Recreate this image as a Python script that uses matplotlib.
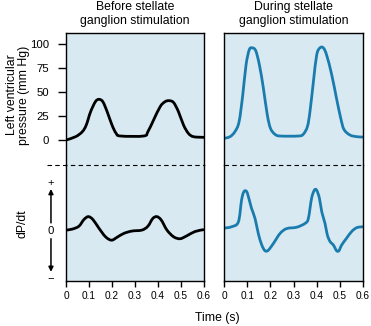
import matplotlib
matplotlib.use("Agg")
import matplotlib.pyplot as plt
from matplotlib.path import Path
from matplotlib.patches import PathPatch

plt.rcParams['font.family'] = ['Liberation Sans', 'DejaVu Sans']

# left ventricular pressure (mm Hg), before stimulation
before_t = [0, 0.042, 0.071, 0.088, 0.107, 0.128, 0.143, 0.16, 0.179, 0.2, 0.218,
            0.237, 0.338, 0.356, 0.381, 0.41, 0.431, 0.449, 0.468, 0.489, 0.511,
            0.532, 0.554, 0.6]
before_p = [0, 3.5, 8.7, 15.6, 29.5, 40, 42.4, 40, 29.5, 15.6, 7,
            4.2, 4.2, 8.7, 21, 35, 40, 41, 39, 29.5, 15.6,
            7, 3.5, 2.8]

# left ventricular pressure (mm Hg), during stimulation
during_t = [0, 0.026, 0.047, 0.065, 0.081, 0.095, 0.109, 0.122, 0.137, 0.153, 0.17,
            0.187, 0.201, 0.22, 0.242, 0.321, 0.342, 0.36, 0.371, 0.386, 0.4,
            0.414, 0.429, 0.443, 0.465, 0.486, 0.504, 0.518, 0.544, 0.573, 0.6]
during_p = [1.7, 3.5, 8.7, 19, 47, 78, 94, 96, 93, 78, 54,
            26, 12, 6, 4.2, 4.2, 6, 14, 29.5, 61, 88.5,
            96, 96, 88.5, 68, 43, 22.6, 11, 5.2, 3.5, 3.1]

# dP/dt (relative units, +1 / -1 at the axis marks)
before_dt_t = [0, 0.027, 0.056, 0.078, 0.097, 0.117, 0.143, 0.172, 0.198, 0.222, 0.251,
               0.287, 0.33, 0.356, 0.377, 0.395, 0.414, 0.439, 0.468, 0.496, 0.525,
               0.561, 0.6]
before_dpdt = [0.02, 0.04, 0.10, 0.24, 0.30, 0.24, 0.06, -0.12, -0.19, -0.13, -0.05,
               0, 0.02, 0.10, 0.26, 0.30, 0.23, 0.02, -0.12, -0.16, -0.10,
               -0.01, 0.03]

during_dt_t = [0, 0.033, 0.062, 0.076, 0.086, 0.098, 0.109, 0.119, 0.134, 0.148, 0.163,
               0.177, 0.191, 0.213, 0.242, 0.27, 0.314, 0.35, 0.364, 0.378, 0.39,
               0.4, 0.412, 0.422, 0.436, 0.446, 0.458, 0.472, 0.486, 0.496, 0.508,
               0.529, 0.551, 0.573, 0.6]
during_dpdt = [0.06, 0.09, 0.19, 0.65, 0.82, 0.82, 0.65, 0.47, 0.26, -0.05, -0.29,
               -0.41, -0.40, -0.26, -0.05, 0.05, 0.08, 0.16, 0.26, 0.68, 0.85,
               0.85, 0.68, 0.40, 0.16, -0.08, -0.22, -0.29, -0.41, -0.41, -0.29,
               -0.15, -0.01, 0.07, 0.09]

titles = ['Before stellate\nganglion stimulation', 'During stellate\nganglion stimulation']
pressure_ticks = [0, 25, 50, 75, 100]
time_ticks = [0, 0.1, 0.2, 0.3, 0.4, 0.5, 0.6]

bg = '#d8e9f1'
blue = '#1a7cae'
W, H = 371, 326


def smooth_trace(ax, xs, ys, color):
    # Catmull-Rom through the samples, drawn as cubic Bezier segments
    pts = list(zip(xs, ys))
    n = len(pts)
    verts = [pts[0]]
    codes = [Path.MOVETO]
    for k in range(n - 1):
        p0 = pts[max(k - 1, 0)]
        p1 = pts[k]
        p2 = pts[k + 1]
        p3 = pts[min(k + 2, n - 1)]
        c1 = (p1[0] + (p2[0] - p0[0]) / 6, p1[1] + (p2[1] - p0[1]) / 6)
        c2 = (p2[0] - (p3[0] - p1[0]) / 6, p2[1] - (p3[1] - p1[1]) / 6)
        verts += [c1, c2, p2]
        codes += [Path.CURVE4] * 3
    ax.add_patch(PathPatch(Path(verts, codes), fill=False, edgecolor=color,
                           lw=2.0, joinstyle='round', capstyle='butt'))


fig = plt.figure(figsize=(3.71, 3.26), dpi=100)

cols = [(66, 138), (224, 139)]
series = [(before_t, before_p, before_dt_t, before_dpdt, 'black'),
          (during_t, during_p, during_dt_t, during_dpdt, blue)]

for i, ((x0, w), (pt, pv, dt, dv, col)) in enumerate(zip(cols, series)):
    top = fig.add_axes([x0 / W, 1 - 165 / H, w / W, 132 / H])
    bot = fig.add_axes([x0 / W, 1 - 281 / H, w / W, 116 / H])

    for ax in (top, bot):
        ax.set_facecolor(bg)
        ax.set_xlim(0, 0.6)
        for s in ax.spines.values():
            s.set_linewidth(1.0)
    top.spines['bottom'].set_visible(False)
    bot.spines['top'].set_visible(False)

    top.set_ylim(-26, 111.5)
    bot.set_ylim(-1.04, 1.375)

    smooth_trace(top, pt, pv, col)
    smooth_trace(bot, dt, dv, col)

    # dashed divider between the two traces
    xmin = -0.138 if i == 0 else 0
    bot.axhline(1.375, xmin=xmin, xmax=1, color='black', lw=0.8,
                ls=(0, (4, 3)), clip_on=False, zorder=5)

    top.set_xticks([])
    bot.set_xticks(time_ticks)
    bot.set_xticklabels(['0' if v == 0 else f'{v:.1f}' for v in time_ticks])
    bot.tick_params(axis='x', length=4, width=1.0, labelsize=7.3, pad=3)
    bot.set_yticks([])

    if i == 0:
        top.set_yticks(pressure_ticks)
        top.tick_params(axis='y', length=6, width=1.0, labelsize=8.2, pad=6)
        tr = bot.get_yaxis_transform()
        bot.text(-0.109, 1.0, '+', transform=tr, ha='center', va='center', fontsize=8)
        bot.text(-0.109, 0.0, '0', transform=tr, ha='center', va='center', fontsize=8.2)
        bot.text(-0.109, -0.98, '\u2212', transform=tr, ha='center', va='center', fontsize=8)
        arrow = dict(arrowstyle='-|>', color='black', lw=1.1, mutation_scale=7,
                     shrinkA=0, shrinkB=0)
        bot.annotate('', xy=(-0.109, 0.875), xytext=(-0.109, 0.17), xycoords=tr,
                     textcoords=tr, arrowprops=arrow, annotation_clip=False)
        bot.annotate('', xy=(-0.109, -0.85), xytext=(-0.109, -0.16), xycoords=tr,
                     textcoords=tr, arrowprops=arrow, annotation_clip=False)
    else:
        top.set_yticks([])

    fig.text((x0 + w / 2) / W, 1 - 14 / H, titles[i], ha='center', va='center',
             fontsize=8.8, linespacing=1.15)

fig.text(18 / W, 1 - 95 / H, 'Left ventricular\npressure (mm Hg)', rotation=90,
         ha='center', va='center', fontsize=8.8, linespacing=1.1)
fig.text(23 / W, 1 - 224 / H, 'dP/dt', rotation=90, ha='center', va='center', fontsize=8.8)
fig.text(217 / W, 1 - 318 / H, 'Time (s)', ha='center', va='center', fontsize=8.8)

fig.savefig('out.png', dpi=100)
